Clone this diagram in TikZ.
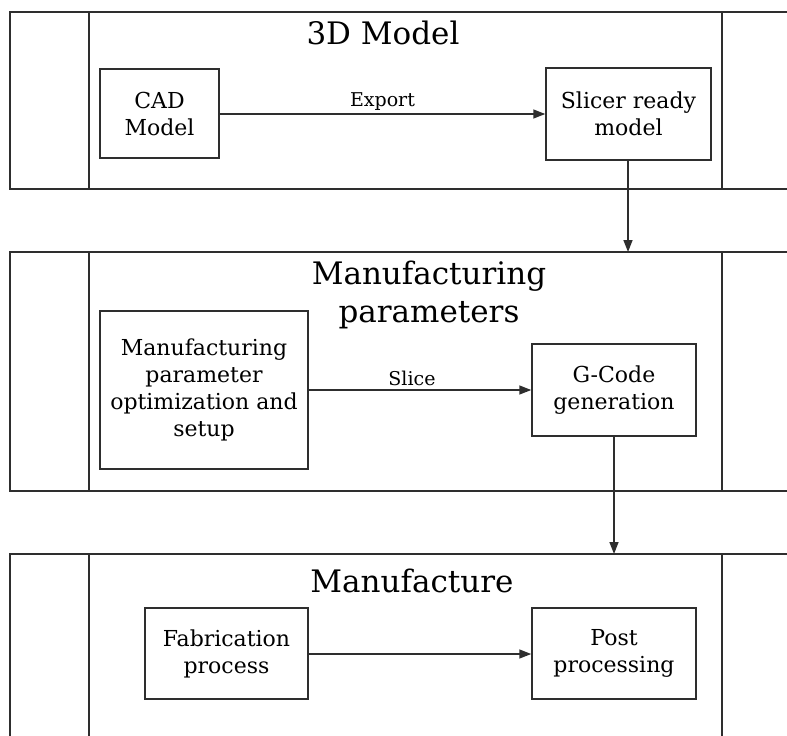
\documentclass[tikz,border=0pt]{standalone}
\usepackage{fontspec}
\setmainfont{DejaVu Serif}
\usetikzlibrary{arrows.meta}
\begin{document}
\begin{tikzpicture}[x=1pt,y=-1pt,
  ln/.style={draw=black!82,line width=1.5pt},
  box/.style={ln,rectangle,align=center,inner sep=0pt,font=\fontsize{22}{27}\selectfont},
  ttl/.style={align=center,inner sep=0pt,font=\fontsize{31}{38}\selectfont},
  lbl/.style={inner sep=0pt,font=\fontsize{19}{23}\selectfont},
  arr/.style={ln,-{Triangle[length=12pt,width=9pt]}}]
\useasboundingbox (0,0) rectangle (787,736);
\clip (0,0) rectangle (787,736);
\fill[white] (0,0) rectangle (787,736);
% band 1
\draw[ln] (10,12) rectangle (800,189);
\draw[ln] (89,12) -- (89,189);
\draw[ln] (722,12) -- (722,189);
% band 2
\draw[ln] (10,252) rectangle (800,491);
\draw[ln] (89,252) -- (89,491);
\draw[ln] (722,252) -- (722,491);
% band 3
\draw[ln] (10,554) rectangle (800,760);
\draw[ln] (89,554) -- (89,760);
\draw[ln] (722,554) -- (722,760);
% titles
\node[ttl,anchor=base] (t1) at (383,44) {3D Model};
\node[ttl,anchor=north] (t2) at (429,261) {Manufacturing\\parameters};
\node[ttl,anchor=base] (t3) at (412,592) {Manufacture};
% boxes
\node[box,minimum width=119pt,minimum height=89pt] (cad) at (159.5,113.5) {CAD\\Model};
\node[box,minimum width=165pt,minimum height=92pt] (slicer) at (628.5,114) {Slicer ready\\model};
\node[box,minimum width=208pt,minimum height=158pt] (mfg) at (204,390) {Manufacturing\\parameter\\optimization and\\setup};
\node[box,minimum width=164pt,minimum height=92pt] (gcode) at (614,390) {G-Code\\generation};
\node[box,minimum width=163pt,minimum height=91pt] (fab) at (226.5,653.5) {Fabrication\\process};
\node[box,minimum width=164pt,minimum height=91pt] (post) at (614,653.5) {Post\\processing};
% coordinates on band tops
\coordinate (b2top) at (628,252);
\coordinate (b3top) at (614,554);
% connectors
\draw[arr] (cad.east |- 0,114) -- node[lbl,pos=0.5,above=3pt] {Export} (slicer.west |- 0,114);
\draw[arr] (slicer.south -| b2top) -- (b2top);
\draw[arr] (mfg.east |- 0,390) -- node[lbl,pos=0.464,above=3pt] {Slice} (gcode.west |- 0,390);
\draw[arr] (gcode.south) -- (b3top);
\draw[arr] (fab.east |- 0,654) -- (post.west |- 0,654);
\end{tikzpicture}
\end{document}
